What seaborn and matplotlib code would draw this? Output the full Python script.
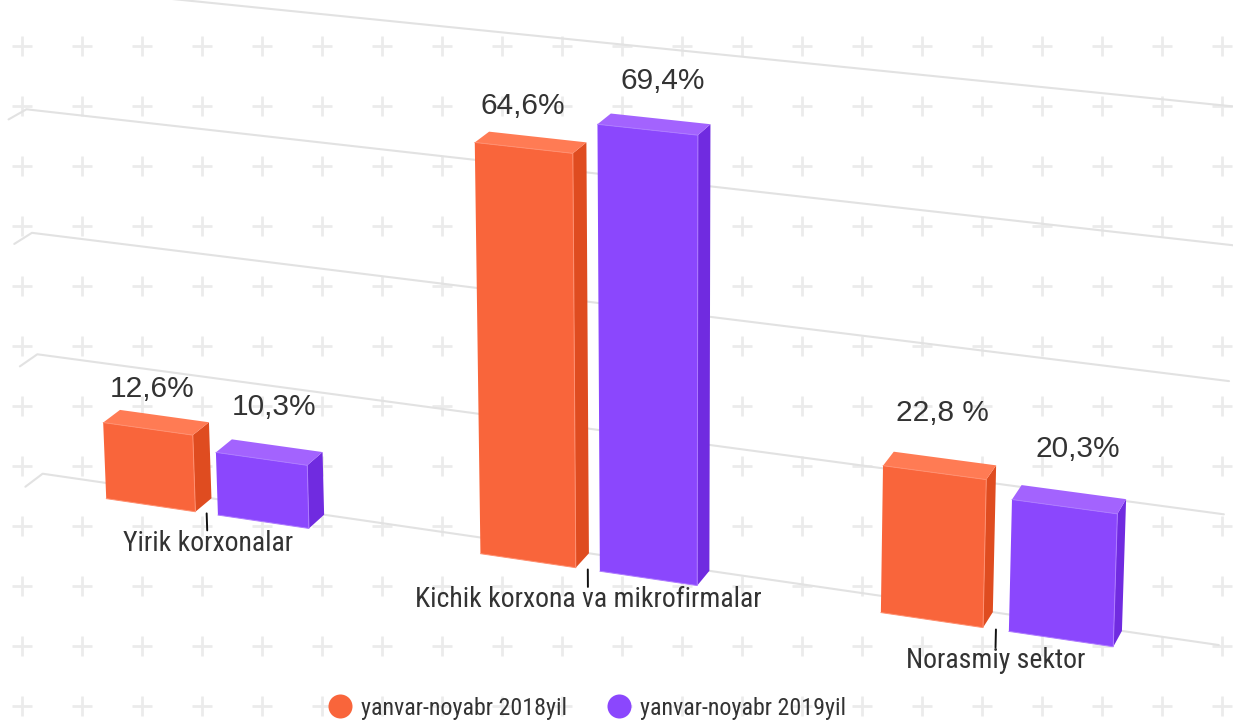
# 3D-look grouped bars, drawn from seaborn bars pushed through a camera matrix
import numpy as np
import pandas as pd
import matplotlib
matplotlib.use("Agg")
import matplotlib.pyplot as plt
import matplotlib.transforms as mtransforms
from matplotlib.lines import Line2D
from matplotlib.patches import Polygon
import seaborn as sns

# data
categories = ["Yirik korxonalar", "Kichik korxona va mikrofirmalar", "Norasmiy sektor"]
series = ["yanvar-noyabr 2018yil", "yanvar-noyabr 2019yil"]
values_2018 = [12.6, 64.6, 22.8]
values_2019 = [10.3, 69.4, 20.3]
labels_2018 = ["12,6%", "64,6%", "22,8 %"]
labels_2019 = ["10,3%", "69,4%", "20,3%"]
grid_values = [0, 20, 40, 60, 80]

# camera: (category, value, depth) -> pixel
CAMERA = np.array([
    [3.61731832e+02, -2.88227144e-01, 1.79228329e+01, 2.06653799e+02],
    [3.72447735e+01, -6.27428069e+00, -9.05824964e+00, 5.13409662e+02],
    [-3.30441944e-02, -4.26652176e-04, 8.83681157e-03, 1.00000000e+00],
])


def project(x, v, z=0.0):
    h = CAMERA @ np.array([x, v, z, 1.0])
    return h[0] / h[2], h[1] / h[2]


class FrontPlane(mtransforms.Transform):
    input_dims = 2
    output_dims = 2

    def transform_non_affine(self, values):
        values = np.asarray(values, dtype=float)
        return np.array([project(x, v) for x, v in values])


sns.set_theme(style="white")
plt.rcParams["font.family"] = ["Roboto Condensed", "Roboto", "DejaVu Sans"]

df = pd.DataFrame({
    "kategoriya": categories * 2,
    "davr": [series[0]] * 3 + [series[1]] * 3,
    "qiymat": values_2018 + values_2019,
})

front_colors = ["#F9653B", "#8B47FD"]
top_colors = ["#FF7B54", "#A363FE"]
side_colors = ["#DF4C20", "#702BE0"]
edge_colors = ["#FF8F70", "#AE7BFF"]
text_color = "#333333"

fig = plt.figure(figsize=(12.33, 7.22), dpi=100)
ax = fig.add_axes([0, 0, 1, 1])
sns.barplot(data=df, x="kategoriya", y="qiymat", hue="davr", palette=front_colors,
            width=0.611, gap=0.2, saturation=1, legend=False, ax=ax, zorder=4)
ax.set_xlim(0, 1233)
ax.set_ylim(722, 0)
ax.axis("off")

# background crosses
gx, gy = np.meshgrid(np.arange(22, 1233, 60), np.arange(46, 722, 60))
ax.scatter(gx.ravel(), gy.ravel(), marker="+", s=205, color="#EBEBEB", linewidths=2.0, zorder=1)

# back wall grid lines with the short stub towards the viewer
for g in grid_values:
    pts = [project(-0.5, g, 0), project(-0.5, g, 1), project(2.5, g, 1)]
    ax.plot(*zip(*pts), color="#E2E2E2", lw=1.5, zorder=2)

# bars: seaborn front faces, plus side and top faces
to_px = FrontPlane() + ax.transData
for s, container in enumerate(ax.containers):
    for bar in container:
        x0, x1 = bar.get_x(), bar.get_x() + bar.get_width()
        v = bar.get_height()
        side = [project(x1, 0, 0), project(x1, 0, 1), project(x1, v, 1), project(x1, v, 0)]
        top = [project(x0, v, 0), project(x1, v, 0), project(x1, v, 1), project(x0, v, 1)]
        ax.add_patch(Polygon(side, closed=True, fc=side_colors[s], ec="none", zorder=3))
        ax.add_patch(Polygon(top, closed=True, fc=top_colors[s], ec="none", zorder=3))
        bar.set_transform(to_px)
        bar.set_edgecolor("none")
        edge = [project(x0, 0), project(x1, 0), project(x1, v), project(x0, v)]
        ax.plot(*zip(*edge), color=edge_colors[s], lw=0.7, zorder=5)

# value labels, placed by hand in the original
label_offsets = [[(-12, 27), (-15, 31), (-2, 45)], [(-3, 39), (2, 38), (4, 43)]]
for s, (vals, labels) in enumerate(zip([values_2018, values_2019], [labels_2018, labels_2019])):
    for i, (v, lab) in enumerate(zip(vals, labels)):
        bar = ax.containers[s][i]
        cx = bar.get_x() + bar.get_width() / 2
        ax.annotate(lab, project(cx, v, 1), xytext=label_offsets[s][i], textcoords="offset pixels",
                    ha="center", va="center", fontsize=21.5, color=text_color,
                    family=["Liberation Sans", "DejaVu Sans"], zorder=6)

# category ticks and names
for i, name in enumerate(categories):
    ax.plot(*zip(project(i, 0), project(i, -2.8)), color="#111111", lw=1.4, zorder=5)
    ax.text(*project(i, -4.9), name, ha="center", va="center", fontsize=20, color=text_color, zorder=6)

handles = [Line2D([], [], marker="o", ls="", ms=17.3, mfc=c, mec="none") for c in front_colors]
ax.legend(handles, series, ncols=2, loc="center", bbox_to_anchor=(587, 708), bbox_transform=ax.transData,
          frameon=False, fontsize=17.25, labelcolor=text_color, handlelength=1, handletextpad=0.375,
          columnspacing=1.67, borderpad=0, borderaxespad=0)

fig.savefig("out.png", dpi=100, facecolor="white")
